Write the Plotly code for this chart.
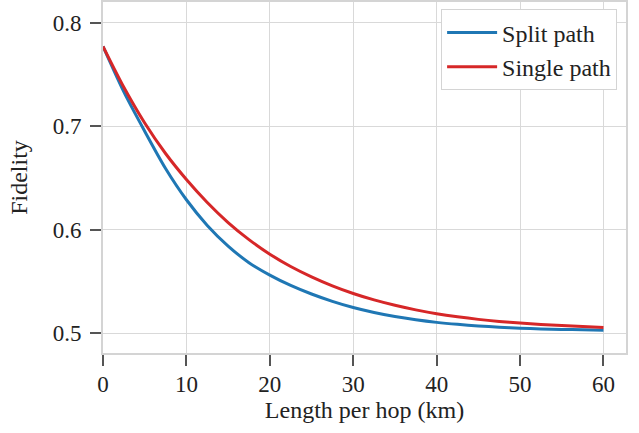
import plotly.graph_objects as go

length_km = [0, 2.5, 5, 7.5, 10, 12.5, 15, 17.5, 20, 22.5, 25, 27.5, 30,
             32.5, 35, 37.5, 40, 42.5, 45, 47.5, 50, 52.5, 55, 57.5, 60]

split_path = [0.777, 0.733, 0.695, 0.659, 0.6288, 0.604, 0.584, 0.568,
              0.556, 0.546, 0.5377, 0.5306, 0.5246, 0.5198, 0.5159, 0.5128,
              0.5103, 0.5084, 0.5069, 0.5057, 0.5047, 0.5040, 0.5035, 0.5031,
              0.5028]

single_path = [0.777, 0.7375, 0.703, 0.6735, 0.6484, 0.6262, 0.6068, 0.5903,
               0.5762, 0.5643, 0.5543, 0.5456, 0.5382, 0.5320, 0.5268, 0.5224,
               0.5187, 0.5157, 0.5132, 0.5112, 0.5096, 0.5083, 0.5072, 0.5062,
               0.5054]

x_ticks = [0, 10, 20, 30, 40, 50, 60]
y_ticks = [0.5, 0.6, 0.7, 0.8]
y_tick_text = ["0.5", "0.6", "0.7", "0.8"]

FONT = "Liberation Serif"
TXT = "#222222"

fig = go.Figure()
fig.add_trace(go.Scatter(x=length_km, y=split_path, mode="lines", name="Split path",
                         line=dict(color="#1f77b4", width=3, shape="spline", smoothing=0.8)))
fig.add_trace(go.Scatter(x=length_km, y=single_path, mode="lines", name="Single path",
                         line=dict(color="#d62728", width=3, shape="spline", smoothing=0.8)))

axis_common = dict(
    showgrid=True, gridcolor="#d9d9d9", gridwidth=1,
    showline=True, linecolor="#d4d4d4", linewidth=2, mirror=True,
    ticks="outside", ticklen=11, tickwidth=1.5, tickcolor="#555555",
    zeroline=False, automargin=False,
    tickfont=dict(family=FONT, size=23, color=TXT),
)

fig.update_layout(
    width=639, height=433,
    margin=dict(l=103, r=13, t=2, b=80),
    paper_bgcolor="white", plot_bgcolor="white",
    font=dict(family=FONT, size=23, color=TXT),
    xaxis=dict(range=[0, 62.7], tickvals=x_ticks, ticklabelstandoff=-2,
               title=dict(text="Length per hop (km)", standoff=6,
                          font=dict(family=FONT, size=24, color=TXT)),
               **axis_common),
    yaxis=dict(range=[0.4807, 0.8199], tickvals=y_ticks, ticktext=y_tick_text,
               ticklabelstandoff=4,
               title=dict(text="Fidelity", standoff=18,
                          font=dict(family=FONT, size=24, color=TXT)),
               **axis_common),
    legend=dict(x=0.983, y=0.979, xanchor="right", yanchor="top",
                bgcolor="white", bordercolor="#d4d4d4", borderwidth=1,
                font=dict(family=FONT, size=24, color=TXT),
                itemwidth=50, tracegroupgap=0),
    showlegend=True,
)

fig.write_html("out.html", config={"displayModeBar": False},
               post_script="document.body.style.margin='0';document.body.style.padding='0';window.dispatchEvent(new Event('resize'));")
